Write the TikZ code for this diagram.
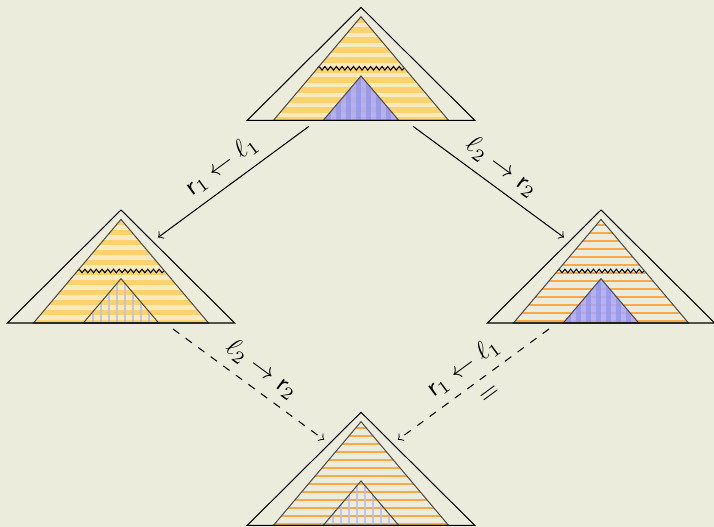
\documentclass[tikz,border=0pt]{standalone}
\usetikzlibrary{decorations.pathmorphing}
\definecolor{PaperBg}{RGB}{236,236,221}
\definecolor{StripeDark}{RGB}{250,211,110}
\definecolor{StripeLight}{RGB}{251,234,190}
\definecolor{LineOrange}{RGB}{250,168,72}
\definecolor{BlueFill}{RGB}{168,168,250}
\definecolor{BlueStripe}{RGB}{140,140,235}
\definecolor{Lilac}{RGB}{185,185,245}

% fillings of the pyramids
\newcommand{\yellowbody}{\fill[StripeLight] (-90,0) rectangle (90,115);
  \foreach \y in {0,10,...,110} \fill[StripeDark] (-90,\y) rectangle (90,\y+5.4);}
\newcommand{\orangebody}{\foreach \k in {0,...,13}
  \draw[LineOrange,line width=0.8pt] (-90,7.4+8*\k) -- (90,7.4+8*\k);}
\newcommand{\bluetop}{\fill[BlueFill,fill opacity=0.85] (-40,60) rectangle (40,115);
  \foreach \x in {-35,-25,...,35} \fill[BlueStripe,fill opacity=0.6] (\x,60) rectangle (\x+5,115);}
\newcommand{\lilactop}{\foreach \x in {-36,-28,...,36}
  \draw[Lilac,line width=0.8pt,opacity=0.8] (\x,60) -- (\x,115);}
\newcommand{\wavyline}{\draw[wavy] (-43.6,61) -- (43.6,61);}

% name, apex, body, top, wave
\newcommand{\pyramid}[5]{%
\begin{scope}[shift={#2}]
  \begin{scope}\clip (0,9.4) -- (87.5,113) -- (-87.5,113) -- cycle; #3\end{scope}
  \begin{scope}\clip (0,68.7) -- (37.7,113) -- (-37.7,113) -- cycle; #4\end{scope}
  #5
  \draw[innerline] (0,9.4) -- (87.5,113) -- (-87.5,113) -- cycle;
  \draw[innerline] (0,68.7) -- (37.7,113) -- (-37.7,113) -- cycle;
  \draw[outerline] (0,0) -- (113.7,113) -- (-113.7,113) -- cycle;
  \coordinate (#1-sw) at (-52,119);
  \coordinate (#1-se) at (52,119);
  \coordinate (#1-nw) at (-37,27.5);
  \coordinate (#1-ne) at (37,27.5);
\end{scope}}

\begin{document}
\begin{tikzpicture}[x=0.385pt,y=-0.385pt,
outerline/.style={draw=black,line width=0.4pt},
innerline/.style={draw=black!70,line width=0.4pt},
wavy/.style={decorate,decoration={snake,segment length=2.2pt,amplitude=0.7pt}},
arrow/.style={->,line width=0.4pt},
lbl/.style={sloped}
]
\fill[PaperBg] (0,0) rectangle (714,527);
\useasboundingbox (0,0) rectangle (714,527);

\pyramid{top}{(361,7.3)}{\yellowbody}{\bluetop}{\wavyline}
\pyramid{left}{(121,210)}{\yellowbody}{\lilactop}{\wavyline}
\pyramid{right}{(601,210)}{\orangebody}{\bluetop}{\wavyline}
\pyramid{bottom}{(361,412.3)}{\orangebody}{\lilactop}{}

\draw[arrow] (top-sw) -- node[lbl,above,pos=0.5] (lab1) {$\mathsf{r}_1\leftarrow\ell_1$} (left-ne);
\draw[arrow] (top-se) -- node[lbl,above,pos=0.51] (lab2) {$\ell_2\rightarrow\mathsf{r}_2$} (right-nw);
\draw[arrow,dashed] (left-se) -- node[lbl,above,pos=0.51] (lab3) {$\ell_2\rightarrow\mathsf{r}_2$} (bottom-nw);
\draw[arrow,dashed] (right-sw) -- node[lbl,above,pos=0.49] (lab4) {$\mathsf{r}_1\leftarrow\ell_1$}
  node[lbl,below=1.5pt,pos=0.46] (eq) {$=$} (bottom-ne);
\end{tikzpicture}
\end{document}
